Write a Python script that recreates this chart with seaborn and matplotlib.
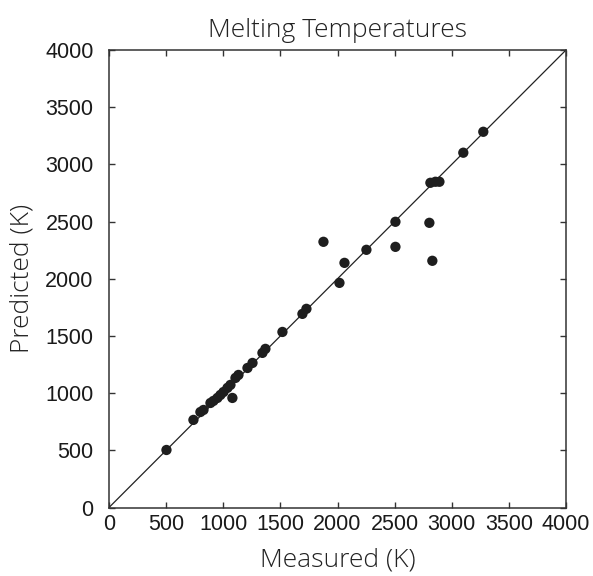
import matplotlib
matplotlib.use("Agg")
import matplotlib.pyplot as plt
import seaborn as sns
import pandas as pd

# Melting points: measured vs. predicted (K)
measured = [503, 739, 800, 827, 888, 914, 949, 975, 1002, 1037, 1063, 1080,
            1107, 1133, 1212, 1256, 1343, 1369, 1518, 1693, 1728, 1877,
            2017, 2061, 2253, 2507, 2507, 2804, 2830, 2813, 2857, 2892,
            3101, 3276]
predicted = [503, 766, 835, 853, 914, 932, 958, 984, 1010, 1046, 1072, 958,
             1133, 1159, 1220, 1264, 1352, 1387, 1535, 1693, 1737, 2323,
             1964, 2139, 2253, 2498, 2279, 2489, 2157, 2839, 2848, 2848,
             3102, 3285]

ticks = [0, 500, 1000, 1500, 2000, 2500, 3000, 3500, 4000]
limit = [0, 4000]

df = pd.DataFrame({"Measured": measured, "Predicted": predicted})

sns.set_style("ticks")
plt.rcParams["font.family"] = ["Liberation Sans Narrow", "Liberation Sans", "DejaVu Sans"]

fig = plt.figure(figsize=(5.93, 5.76), dpi=100)
ax = fig.add_axes([0.1838, 0.1189, 0.7707, 0.7943])

ax.plot(limit, limit, color="#222222", lw=0.9, zorder=1)
sns.scatterplot(data=df, x="Measured", y="Predicted", ax=ax, s=55,
                color="#1e1e1e", edgecolor="none", linewidth=0, zorder=2)

ax.set_xlim(limit)
ax.set_ylim(limit)
ax.set_xticks(ticks)
ax.set_yticks(ticks)
ax.set_xticklabels([str(t) for t in ticks])
ax.set_yticklabels([str(t) for t in ticks])

for side in ["top", "right", "left", "bottom"]:
    ax.spines[side].set_visible(True)
    ax.spines[side].set_color("#333333")
    ax.spines[side].set_linewidth(1.1)

ax.tick_params(axis="both", which="major", direction="in", length=4,
               width=1.0, color="#333333", top=True, right=True,
               labelsize=15.5, labelcolor="#1a1a1a")
ax.tick_params(axis="x", pad=5)
ax.tick_params(axis="y", pad=11)

label_font = {"family": ["Open Sans", "Lato", "DejaVu Sans"], "weight": 300,
              "color": "#222222", "size": 19}
ax.set_title("Melting Temperatures", fontdict=label_font, pad=9)
ax.set_xlabel("Measured (K)", fontdict=label_font, labelpad=9)
ax.set_ylabel("Predicted (K)", fontdict=label_font, labelpad=8)

fig.savefig("out.png", dpi=100)
